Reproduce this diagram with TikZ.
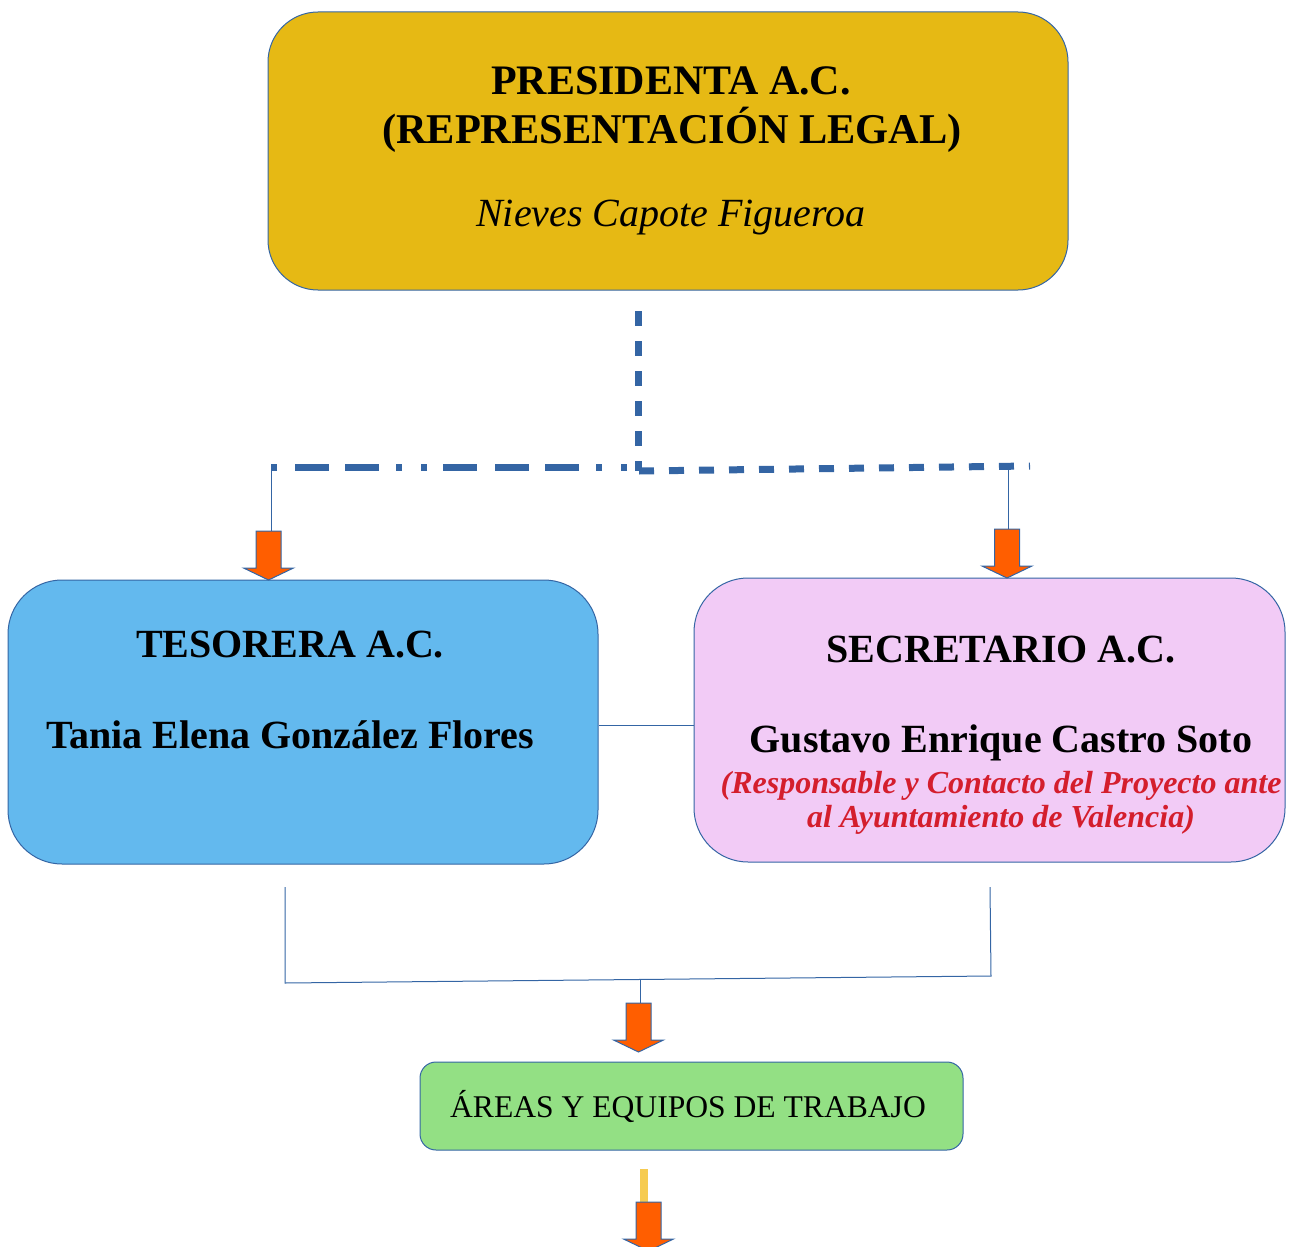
\documentclass[tikz,border=0pt]{standalone}
\usepackage{fontspec}
\setmainfont{Liberation Serif}

\definecolor{lineblue}{HTML}{3465A4}
\definecolor{presfill}{HTML}{E6B914}
\definecolor{tesfill}{HTML}{63B9EE}
\definecolor{secfill}{HTML}{F2CBF6}
\definecolor{areafill}{HTML}{93E084}
\definecolor{arrorange}{HTML}{FF5E00}
\definecolor{redtext}{HTML}{D41E2D}
\definecolor{baryellow}{HTML}{F6CB50}

\tikzset{
  box/.style={draw=lineblue, line width=0.5pt, inner sep=0pt},
  txt/.style={anchor=base, inner sep=0pt},
  link/.style={draw=lineblue, line width=0.5pt},
  dashline/.style={draw=lineblue, line width=3.5pt},
  blockarrow/.pic={
    \filldraw[fill=arrorange, draw=lineblue, line width=0.5pt]
      (-12.5,0) -- (12.5,0) -- (12.5,37) -- (25,37) -- (0,49)
      -- (-25,37) -- (-12.5,37) -- cycle;
  }
}

\begin{document}
\begin{tikzpicture}[x=0.5pt, y=-0.5pt]
\useasboundingbox (0,0) rectangle (1290,1247);

% boxes
\node[box, fill=presfill, rounded corners=25pt, minimum width=400pt, minimum height=139pt] (pres) at (668,151) {};
\node[box, fill=tesfill, rounded corners=27pt, minimum width=295pt, minimum height=142pt] (tes) at (303,722) {};
\node[box, fill=secfill, rounded corners=27pt, minimum width=295.5pt, minimum height=142pt] (sec) at (989.5,720) {};
\node[box, fill=areafill, rounded corners=8pt, minimum width=271.5pt, minimum height=44pt] (areas) at (691.5,1106) {};

% texts
\node[txt, font=\fontsize{21}{25}\selectfont\bfseries] (presA) at (671,95) {PRESIDENTA A.C.};
\node[txt, font=\fontsize{21.2}{25}\selectfont\bfseries] (presB) at (672,143) {(REPRESENTACIÓN LEGAL)};
\node[txt, font=\fontsize{20}{24}\selectfont\itshape] (presC) at (671,226) {Nieves Capote Figueroa};
\node[txt, font=\fontsize{20}{24}\selectfont\bfseries] (tesA) at (290,657) {TESORERA A.C.};
\node[txt, font=\fontsize{20}{24}\selectfont\bfseries] (tesB) at (290,748) {Tania Elena González Flores};
\node[txt, font=\fontsize{20}{24}\selectfont\bfseries] (secA) at (1001,662) {SECRETARIO A.C.};
\node[txt, font=\fontsize{20}{24}\selectfont\bfseries] (secB) at (1001,752) {Gustavo Enrique Castro Soto};
\node[txt, font=\fontsize{16}{19}\selectfont\bfseries\itshape, text=redtext] (secC) at (1001,793) {(Responsable y Contacto del Proyecto ante};
\node[txt, font=\fontsize{16}{19}\selectfont\bfseries\itshape, text=redtext] (secD) at (1001,827) {al Ayuntamiento de Valencia)};
\node[txt, font=\fontsize{15.8}{19}\selectfont] (areasA) at (688,1117) {ÁREAS Y EQUIPOS DE TRABAJO};

% connector points
\coordinate (vtop) at (638,311);
\coordinate (vbot) at (638,471);
\coordinate (hmid) at (635,467);
\coordinate (hleft) at (271,467);
\coordinate (hright) at (1030,466);
\coordinate (dropR) at (1008,470);
\coordinate (arrT) at (268.5,531);
\coordinate (arrS) at (1007,529);
\coordinate (sideY) at (0,725);
\coordinate (tesOut) at (285,887);
\coordinate (secOut) at (990,887);
\coordinate (joinL) at (285,983);
\coordinate (joinR) at (991,976);
\coordinate (joinM) at (640.5,980);
\coordinate (arrA) at (638.5,1003);
\coordinate (barTop) at (644,1169);
\coordinate (arrB) at (648.5,1202);

% dashed tree
\draw[dashline, dash pattern=on 7.5pt off 7.5pt] (vtop) -- (vbot);
\draw[dashline, dash pattern=on 7.5pt off 7.5pt] (vbot -| 639,0) -- (hright);
\draw[dashline, dash pattern=on 3pt off 9.5pt on 3pt off 8.5pt on 17pt off 8pt on 17pt off 9pt on 17pt off 8pt, dash phase=96pt] (hmid) -- (hleft);

% thin links
\draw[link] (hleft) -- (arrT -| hleft);
\draw[link] (dropR) -- (arrS -| dropR);
\draw[link] (tes.east |- sideY) -- (sec.west |- sideY);
\draw[link] (tesOut) -- (joinL) -- (joinR) -- (secOut);
\draw[link] (joinM) -- (arrA -| joinM);
\draw[draw=baryellow, line width=4pt] (barTop) -- (arrB -| barTop);

% block arrows
\pic at (arrT) {blockarrow};
\pic at (arrS) {blockarrow};
\pic at (arrA) {blockarrow};
\pic at (arrB) {blockarrow};
\end{tikzpicture}
\end{document}
